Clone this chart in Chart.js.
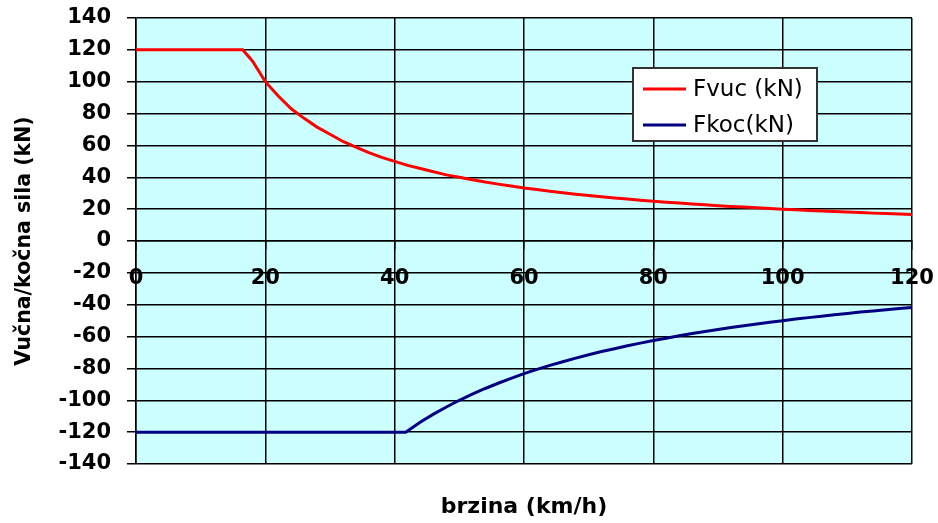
<!DOCTYPE html>
<html>
<head>
<meta charset="utf-8">
<script src="https://cdn.jsdelivr.net/npm/chart.js@4.4.0/dist/chart.umd.min.js"></script>
<style>
html,body{margin:0;padding:0;background:#fff;}
#wrap{width:938px;height:523px;position:relative;}
</style>
</head>
<body>
<div id="wrap"><canvas id="c"></canvas></div>
<script>
const seriesNames = ['Fvuc (kN)', 'Fkoc(kN)'];
const speedsVuc = [0,16.5,18,20,22,24,26,28,30,32,34,36,38,40,42,44,46,48,50,52,54,56,58,60,62,64,66,68,70,72,74,76,78,80,82,84,86,88,90,92,94,96,98,100,102,104,106,108,110,112,114,116,118,120];
const fVuc = [120,120,113,100,91,83,77,71.5,67,62.5,59,55.5,52.5,50,47.5,45.5,43.5,41.5,40,38.5,37,35.7,34.5,33.3,32.3,31.3,30.3,29.4,28.6,27.8,27,26.3,25.6,25,24.4,23.8,23.3,22.7,22.2,21.7,21.3,20.8,20.4,20,19.6,19.2,18.9,18.5,18.2,17.9,17.5,17.2,16.9,16.7];
const speedsKoc = [0,41.7,44,46,48,50,52,54,56,58,60,62,64,66,68,70,72,74,76,78,80,82,84,86,88,90,92,94,96,98,100,102,104,106,108,110,112,114,116,118,120];
const fKoc = [-120,-120,-113.6,-108.7,-104.2,-100,-96.2,-92.6,-89.3,-86.2,-83.3,-80.6,-78.1,-75.8,-73.5,-71.4,-69.4,-67.6,-65.8,-64.1,-62.5,-61,-59.5,-58.1,-56.8,-55.6,-54.3,-53.2,-52.1,-51,-50,-49,-48.1,-47.2,-46.3,-45.5,-44.6,-43.9,-43.1,-42.4,-41.7];
const xTicks = [0,20,40,60,80,100,120];
const yTicks = [-140,-120,-100,-80,-60,-40,-20,0,20,40,60,80,100,120,140];
const xTitle = 'brzina (km/h)';
const yTitle = 'Vučna/kočna sila (kN)';

const FONT = "'DejaVu Sans', sans-serif";

const bgPlugin = {
  id: 'bg',
  beforeDraw(chart) {
    const a = chart.chartArea, ctx = chart.ctx;
    ctx.save();
    ctx.fillStyle = '#CCFFFF';
    ctx.fillRect(a.left, a.top, a.right - a.left, a.bottom - a.top);
    ctx.restore();
  }
};

const legendPlugin = {
  id: 'boxLegend',
  afterDraw(chart) {
    const ctx = chart.ctx;
    const x = 633, y = 68, w = 184, h = 73;
    ctx.save();
    ctx.fillStyle = '#fff';
    ctx.fillRect(x, y, w, h);
    ctx.strokeStyle = '#333';
    ctx.lineWidth = 2;
    ctx.strokeRect(x, y, w, h);
    ctx.font = "23px 'DejaVu Sans', sans-serif";
    ctx.textBaseline = 'middle';
    chart.data.datasets.forEach((ds, i) => {
      const cy = y + 21 + i * 36;
      ctx.strokeStyle = ds.borderColor;
      ctx.lineWidth = 3;
      ctx.beginPath();
      ctx.moveTo(x + 10, cy);
      ctx.lineTo(x + 53, cy);
      ctx.stroke();
      ctx.fillStyle = '#000';
      ctx.fillText(ds.label, x + 60, cy + 1);
    });
    ctx.restore();
  }
};

function noPadH(s) { s.paddingLeft = 0; s.paddingRight = 0; }

new Chart(document.getElementById('c'), {
  type: 'line',
  data: {
    datasets: [
      { label: seriesNames[0], data: speedsVuc.map((v, i) => ({x: v, y: fVuc[i]})), borderColor: '#FF0000', borderWidth: 3, pointRadius: 0, tension: 0, fill: false },
      { label: seriesNames[1], data: speedsKoc.map((v, i) => ({x: v, y: fKoc[i]})), borderColor: '#000080', borderWidth: 3, pointRadius: 0, tension: 0, fill: false }
    ]
  },
  options: {
    responsive: true,
    maintainAspectRatio: false,
    animation: false,
    layout: { padding: { left: 0, top: 18, right: 26, bottom: 0 } },
    plugins: {
      legend: { display: false },
      tooltip: { enabled: false },
      title: { display: false }
    },
    scales: {
      x: {
        type: 'linear', min: 0, max: 120,
        position: { y: 0 },
        afterBuildTicks(s) { s.ticks = xTicks.map(v => ({value: v})); },
        afterFit: noPadH,
        ticks: { color: '#000', padding: 17, font: { family: FONT, size: 21, weight: 'bold' }, maxRotation: 0 },
        grid: { color: '#000', lineWidth: 1.5, tickLength: 8 },
        border: { color: '#000', width: 1.5 }
      },
      x2: {
        type: 'linear', min: 0, max: 120, position: 'bottom', axis: 'x',
        afterFit(s) { s.paddingLeft = 0; s.paddingRight = 0; s.height = 59; },
        ticks: { display: false },
        grid: { display: false, drawTicks: false },
        border: { display: false },
        title: { display: true, text: xTitle, color: '#000', font: { family: FONT, size: 22, weight: 'bold', lineHeight: 1.2 }, padding: { top: 29.8, bottom: 2.8 } }
      },
      y: {
        type: 'linear', min: -140, max: 140,
        afterBuildTicks(s) { s.ticks = yTicks.map(v => ({value: v})); },
        afterFit(s) { s.width = 136; s.paddingTop = 0; s.paddingBottom = 0; },
        ticks: { color: '#000', padding: 16, font: { family: FONT, size: 21, weight: 'bold' } },
        grid: { color: '#000', lineWidth: 1.5, tickLength: 9 },
        border: { color: '#000', width: 1.5 },
        title: { display: true, text: yTitle, color: '#000', font: { family: FONT, size: 20.5, weight: 'bold' }, padding: { top: 12, bottom: 0 } }
      }
    }
  },
  plugins: [bgPlugin, legendPlugin]
});
</script>
</body>
</html>
